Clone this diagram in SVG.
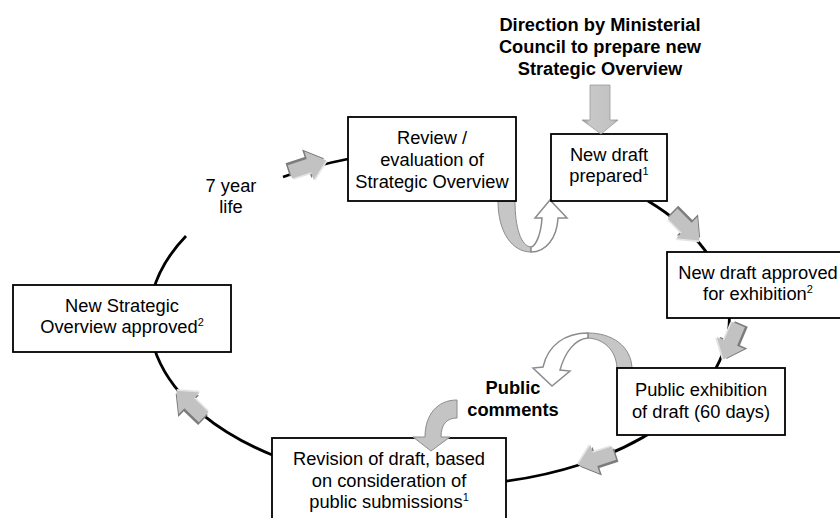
<svg xmlns="http://www.w3.org/2000/svg" xmlns:xlink="http://www.w3.org/1999/xlink" width="840" height="518" viewBox="0 0 840 518">
<style>
.box{fill:#fff;stroke:#000;stroke-width:1.8}
.t{font-family:"Liberation Sans",Arial,sans-serif;font-size:18.3px;fill:#000;text-anchor:middle}
.b{font-weight:bold}
.sup{font-size:11px}
.line{fill:none;stroke:#000;stroke-width:2.8}
.gray{fill:#c6c6c6;stroke:#8c8c8c;stroke-width:1}
.white{fill:#fff;stroke:#8c8c8c;stroke-width:1.5}
</style>
<defs>
<polygon id="ah" points="-19,-7 1,-7 1,-15 19,0 1,15 1,7 -19,7"/>
<g id="blk">
<use xlink:href="#ah" fill="#7c7c7c" transform="translate(-1.5,-2.5)"/>
<use xlink:href="#ah" fill="#e4e4e4" transform="translate(1,1.5)"/>
<use xlink:href="#ah" fill="#c2c2c2"/>
</g>
<linearGradient id="vg" x1="0" y1="0" x2="1" y2="0">
<stop offset="0" stop-color="#8a8a8a"/>
<stop offset="0.2" stop-color="#c8c8c8"/>
<stop offset="0.85" stop-color="#c2c2c2"/>
<stop offset="1" stop-color="#a0a0a0"/>
</linearGradient>
</defs>
<rect width="840" height="518" fill="#fff"/>

<g id="connectors">
<path class="line" d="M 648 201 A 290 168 0 1 1 186 236"/>
<path class="line" d="M 283 177 A 290 168 0 0 1 348 159"/>
<use xlink:href="#blk" transform="translate(308,166) rotate(-18)"/>
<use xlink:href="#blk" transform="translate(686,227) rotate(45)"/>
<use xlink:href="#blk" transform="translate(731,342) rotate(113)"/>
<use xlink:href="#blk" transform="translate(596,459) rotate(162)"/>
<use xlink:href="#blk" transform="translate(190,404) rotate(224)"/>
<path class="gray" d="M 498 201 C 498 232, 512 252, 531 252 L 531 247 C 521 246, 515 228, 515 201 Z"/>
<path class="white" d="M 531 252 C 546 252, 557 238, 558 218 L 567 218 L 550 200 L 535 218 L 542 218 C 541 234, 536 246, 531 247 Z"/>
<path class="gray" d="M 632 368 C 631 346, 612 333, 588 333 L 588 338 C 604 339, 616 350, 617 368 Z"/>
<path class="white" d="M 588 333 C 565 333, 548 345, 543 367 L 533 368 L 552 386 L 570 371 L 560 370 C 565 352, 575 339, 588 338 Z"/>
</g>

<g id="node-review">
<rect class="box" x="348" y="117" width="168" height="84"/>
<text class="t" x="432" y="144">Review /</text>
<text class="t" x="432" y="166">evaluation of</text>
<text class="t" x="432" y="188">Strategic Overview</text>
</g>
<g id="node-prepared">
<rect class="box" x="551" y="134" width="116" height="67"/>
<text class="t" x="609" y="161">New draft</text>
<text class="t" x="609" y="182">prepared<tspan class="sup" dy="-7">1</tspan></text>
</g>
<g id="node-approved">
<rect class="box" x="667" y="252" width="182" height="66"/>
<text class="t" x="758" y="279">New draft approved</text>
<text class="t" x="758" y="300">for exhibition<tspan class="sup" dy="-7">2</tspan></text>
</g>
<g id="node-exhibition">
<rect class="box" x="617" y="368" width="168" height="67"/>
<text class="t" x="701" y="396">Public exhibition</text>
<text class="t" x="701" y="418">of draft (60 days)</text>
</g>
<g id="node-revision">
<rect class="box" x="272" y="438" width="234" height="90"/>
<text class="t" x="389" y="465">Revision of draft, based</text>
<text class="t" x="389" y="487">on consideration of</text>
<text class="t" x="389" y="508">public submissions<tspan class="sup" dy="-7">1</tspan></text>
</g>
<g id="node-approved-so">
<rect class="box" x="13" y="285" width="218" height="67"/>
<text class="t" x="122" y="312">New Strategic</text>
<text class="t" x="122" y="333">Overview approved<tspan class="sup" dy="-7">2</tspan></text>
</g>
<g id="label-life">
<text class="t" x="231" y="192">7 year</text>
<text class="t" x="231" y="213">life</text>
</g>
<g id="label-direction">
<text class="t b" x="600" y="31">Direction by Ministerial</text>
<text class="t b" x="600" y="53">Council to prepare new</text>
<text class="t b" x="600" y="75">Strategic Overview</text>
</g>
<g id="label-public">
<text class="t b" x="513" y="394">Public</text>
<text class="t b" x="513" y="416">comments</text>
</g>

<g id="connectors-overlay">
<polygon points="590,85 610,85 610,120 618,120 601,134 582,120 590,120" fill="url(#vg)" stroke="#9a9a9a" stroke-width="0.8"/>
<path d="M 457 400 L 457 418 C 448 418, 441 423, 441 437 L 450 437 L 431 451 L 413 437 L 425 437 C 425 415, 437 400, 457 400 Z" fill="#c4c4c4" stroke="#8c8c8c" stroke-width="1"/>
</g>
</svg>
